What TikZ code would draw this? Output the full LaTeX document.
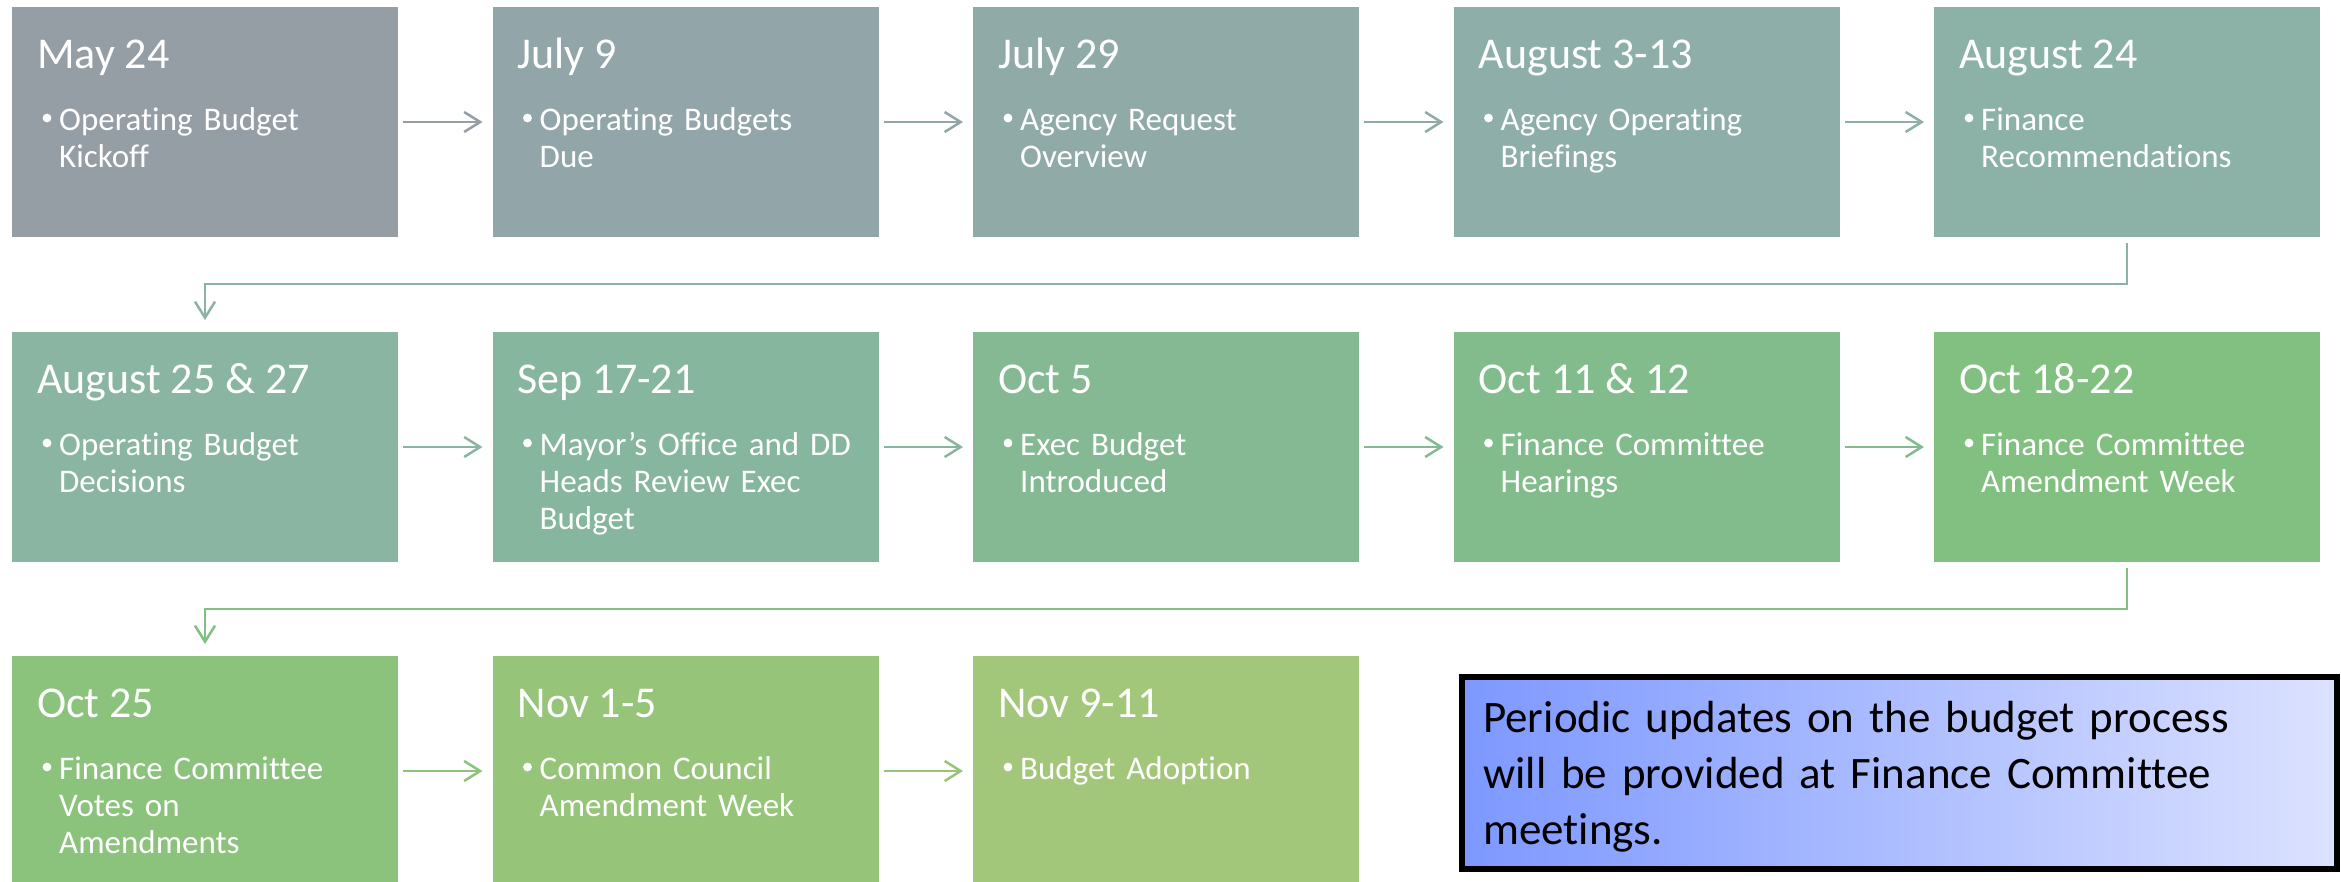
\documentclass[tikz,border=0pt]{standalone}
\usepackage{fontspec}
\setmainfont{Carlito}[Ligatures=NoCommon]
\newfontfamily\notefont{Carlito}[Ligatures=NoCommon,WordSpace=0.8]
\usetikzlibrary{arrows.meta}
\definecolor{c1}{RGB}{149,157,165}
\definecolor{c2}{RGB}{146,165,168}
\definecolor{c3}{RGB}{144,170,168}
\definecolor{c4}{RGB}{142,174,170}
\definecolor{c5}{RGB}{140,178,168}
\definecolor{c6}{RGB}{137,181,162}
\definecolor{c7}{RGB}{134,182,157}
\definecolor{c8}{RGB}{132,185,148}
\definecolor{c9}{RGB}{130,188,140}
\definecolor{c10}{RGB}{129,192,128}
\definecolor{c11}{RGB}{139,194,124}
\definecolor{c12}{RGB}{150,197,122}
\definecolor{c13}{RGB}{163,199,122}
\definecolor{noteL}{RGB}{125,152,255}
\definecolor{noteR}{RGB}{220,226,255}
\tikzset{
  stepbox/.style={minimum width=386pt, minimum height=230pt, inner sep=0pt, outer sep=0pt, draw=none},
  datetxt/.style={anchor=base west, inner sep=0pt, text=white, font=\fontsize{44}{52}\selectfont},
  itemtxt/.style={anchor=base west, inner sep=0pt, text=white, text width=345pt, align=left, font=\fontsize{33}{37}\selectfont},
  conn/.style={line width=2.5pt, -{Straight Barb[length=16pt,width=20pt]}},
}
\newcommand{\stepitem}[5]{%
  \node[stepbox, fill=c#1] (b#1) at (#2,#3) {};
  \node[datetxt] (d#1) at ([xshift=25pt,yshift=-61pt]b#1.north west) {#4};
  \fill[white] ([xshift=35pt,yshift=-111pt]b#1.north west) circle (4.4pt);
  \node[itemtxt] (t#1) at ([xshift=47pt,yshift=-123pt]b#1.north west) {#5};
}
\begin{document}
\begin{tikzpicture}[x=1pt,y=-1pt]
\useasboundingbox (0,0) rectangle (2341,881);
% row 1
\stepitem{1}{205}{122}{May 24}{Operating Budget\\Kickoff}
\stepitem{2}{685.5}{122}{July 9}{Operating Budgets\\Due}
\stepitem{3}{1166}{122}{July 29}{Agency Request\\Overview}
\stepitem{4}{1646.5}{122}{August 3-13}{Agency Operating\\Briefings}
\stepitem{5}{2127}{122}{August 24}{Finance\\Recommendations}
% row 2
\stepitem{6}{205}{447}{August 25 \& 27}{Operating Budget\\Decisions}
\stepitem{7}{685.5}{447}{Sep 17-21}{Mayor’s Office and DD\\Heads Review Exec\\Budget}
\stepitem{8}{1166}{447}{Oct 5}{Exec Budget\\Introduced}
\stepitem{9}{1646.5}{447}{Oct 11 \& 12}{Finance Committee\\Hearings}
\stepitem{10}{2127}{447}{Oct 18-22}{Finance Committee\\Amendment Week}
% row 3
\stepitem{11}{205}{771}{Oct 25}{Finance Committee\\Votes on\\Amendments}
\stepitem{12}{685.5}{771}{Nov 1-5}{Common Council\\Amendment Week}
\stepitem{13}{1166}{771}{Nov 9-11}{Budget Adoption}
% horizontal connectors
\foreach \a/\b in {1/2,2/3,3/4,4/5,6/7,7/8,8/9,9/10,11/12,12/13}{
  \draw[conn, draw=c\a, shorten <=5pt, shorten >=10pt] (b\a.east) -- (b\b.west);
}
% row-change connectors
\draw[conn, draw=c5] ([yshift=-6pt]b5.south) -- ++(0,41) -| ([yshift=12pt]b6.north);
\draw[conn, draw=c10] ([yshift=-6pt]b10.south) -- ++(0,41) -| ([yshift=12pt]b11.north);
% note box
\node[draw=black, line width=6pt, left color=noteL, right color=noteR, minimum width=875pt, minimum height=192pt, inner sep=0pt] (note) at (1899.5,773) {};
\node[anchor=base west, inner sep=0pt, text width=850pt, align=left, font=\notefont\fontsize{45}{56}\selectfont] (notetxt) at (1483,732) {Periodic updates on the budget process\\will be provided at Finance Committee\\meetings.};
\end{tikzpicture}
\end{document}
